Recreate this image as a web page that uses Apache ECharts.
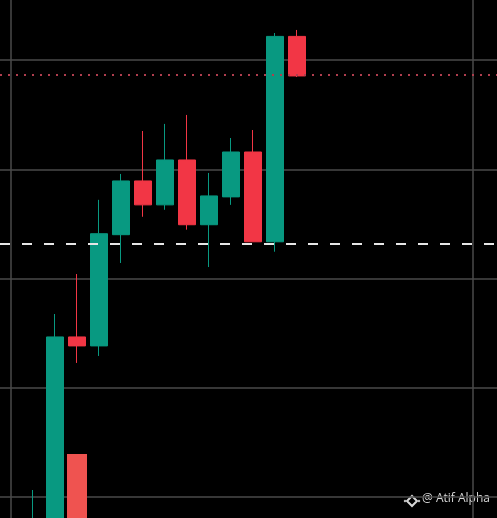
<!DOCTYPE html>
<html>
<head>
<meta charset="utf-8">
<style>
  html, body { margin: 0; padding: 0; background: #000; }
  #chart { width: 497px; height: 518px; }
</style>
<script src="https://cdn.jsdelivr.net/npm/echarts@6/dist/echarts.min.js"></script>
</head>
<body>
<div id="chart"></div>
<script>
// Category slots (positions along the time axis)
const categories = ['c0','c1','c2','c3','c4','c5','c6','c7','c8','c9','c10','c11','c12','c13','c14','c15','c16','c17','c18','c19','c20','c21','c22','c23','c24'];
// Candles: slot index, open, close, low, high
const candleSlots = [2, 3, 4, 5, 6, 7, 8, 9, 10, 11, 12, 13, 14];
const opens  = [55,   70,    246.5, 238.3, 340.1, 389.3, 367.4, 408.5, 349.2, 374.7, 415.8, 333.6, 521.6];
const closes = [78,   246.5, 238.3, 341.0, 389.3, 367.4, 408.5, 349.2, 375.6, 415.8, 333.6, 521.6, 485.4];
const lows   = [45,   60,    222.7, 229.1, 314.2, 356.5, 362.9, 344.7, 310.5, 367.4, 333.6, 324.5, 484.4];
const highs  = [106.4,267.5, 304.1, 372.0, 395.7, 435.0, 441.5, 449.7, 396.6, 428.6, 435.9, 524.7, 527.5];
// Lower red bar under the third candle
const barSlots = [4];
const barValues = [139.4];
// Horizontal reference levels
const dottedLevel = 486.3;
const dashedLevel = 331.8;
// Value axis range and step
const yMin = 0, yMax = 600, yStep = 100;
// Slots holding vertical grid lines
const vLineSlots = [1, 22];
// Watermark
const watermarkText = '@ Atif Alpha';

const candleData = candleSlots.map((s, i) => [s, opens[i], closes[i], lows[i], highs[i]]);
const barData = barSlots.map((s, i) => [s, barValues[i]]);

const wmColor = '#d8d8d8';
const chart = echarts.init(document.getElementById('chart'), null, { renderer: 'canvas' });
chart.setOption({
  backgroundColor: '#000000',
  animation: false,
  grid: { left: -11, right: -20, top: -49.25, bottom: -88.25, containLabel: false, outerBoundsMode: 'none' },
  xAxis: {
    type: 'category',
    data: categories,
    boundaryGap: false,
    axisLine: { show: false },
    axisTick: { show: false },
    axisLabel: { show: false },
    splitLine: {
      show: true,
      interval: (idx) => vLineSlots.indexOf(idx) >= 0,
      lineStyle: { color: '#4a4a4a', width: 1.5 }
    }
  },
  yAxis: {
    type: 'value',
    min: yMin, max: yMax, interval: yStep,
    axisLine: { show: false },
    axisTick: { show: false },
    axisLabel: { show: false },
    splitLine: { show: true, lineStyle: { color: '#4a4a4a', width: 1.5 } }
  },
  series: [
    {
      type: 'bar',
      data: barData,
      encode: { x: 0, y: 1 },
      barWidth: 20,
      itemStyle: { color: '#EF5350' },
      z: 1
    },
    {
      type: 'candlestick',
      data: candleData,
      encode: { x: 0, y: [1, 2, 3, 4] },
      barWidth: 18,
      itemStyle: {
        color: '#089981', color0: '#F23645',
        borderColor: '#089981', borderColor0: '#F23645',
        borderWidth: 1
      },
      z: 3,
      markLine: {
        silent: true,
        symbol: 'none',
        label: { show: false },
        data: [
          { yAxis: dottedLevel, lineStyle: { color: '#b03e4e', type: [2, 6], dashOffset: 5, width: 2 } },
          { yAxis: dashedLevel, lineStyle: { color: '#e6e6e6', type: [10, 12], dashOffset: 11, width: 2 } }
        ]
      }
    }
  ],
  graphic: [
    {
      type: 'group', x: 412, y: 501,
      children: [
        { type: 'polygon', shape: { points: [[0, -5], [5, 0], [0, 5], [-5, 0]] },
          style: { fill: 'none', stroke: wmColor, lineWidth: 2 } },
        { type: 'polygon', shape: { points: [[-7, -1.4], [-5.6, 0], [-7, 1.4], [-8.4, 0]] },
          style: { fill: wmColor } },
        { type: 'polygon', shape: { points: [[7, -1.4], [8.4, 0], [7, 1.4], [5.6, 0]] },
          style: { fill: wmColor } }
      ]
    },
    {
      type: 'text', left: 422, top: 493,
      style: { text: watermarkText, fill: wmColor, font: '12px "Open Sans"' }
    }
  ]
});
</script>
</body>
</html>
